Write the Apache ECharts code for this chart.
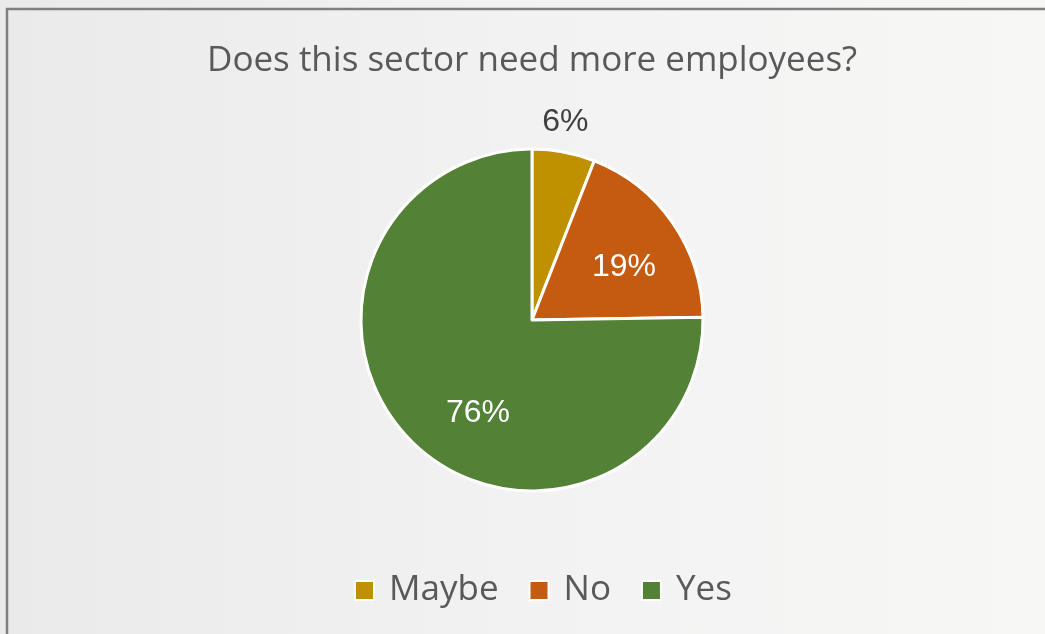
<!DOCTYPE html>
<html>
<head>
<meta charset="utf-8">
<script src="https://cdn.jsdelivr.net/npm/echarts@6/dist/echarts.min.js"></script>
<style>
  html, body { margin: 0; padding: 0; }
  #chart { width: 1045px; height: 634px; }
</style>
</head>
<body>
<div id="chart"></div>
<script>
// Survey answers, in percent
const categories = ['Maybe', 'No', 'Yes'];
const shares = [6, 19, 76];
const sliceColors = ['#BF9000', '#C55A11', '#538135'];
const titleText = 'Does this sector need more employees?';

const chart = echarts.init(document.getElementById('chart'));

const pieData = categories.map((name, i) => ({
  name,
  value: shares[i],
  itemStyle: { color: sliceColors[i] }
}));

const labelFont = {
  fontFamily: '"Liberation Sans", Arial, sans-serif',
  fontSize: 32
};

// Small nudges so the in-slice labels sit where the layout engine of the
// original report put them
const labelNudge = { Maybe: [-4, 0], No: [4, 8], Yes: [21, 17] };

// Transparent copies of the slices that carry the percentage labels
function labelLayer(radius, showFor, color) {
  return {
    type: 'pie',
    silent: true,
    center: [532, 320],
    radius,
    startAngle: 90,
    clockwise: true,
    legendHoverLink: false,
    itemStyle: { color: 'transparent', borderWidth: 0 },
    emphasis: { disabled: true },
    labelLine: { show: false },
    data: categories.map((name, i) => ({
      name,
      value: shares[i],
      label: {
        show: showFor.includes(name),
        position: 'inside',
        formatter: '{c}%',
        color,
        offset: labelNudge[name],
        ...labelFont
      }
    }))
  };
}

chart.setOption({
  backgroundColor: {
    type: 'linear', x: 0, y: 0, x2: 1, y2: 0,
    colorStops: [
      { offset: 0, color: '#eaeaea' },
      { offset: 0.5, color: '#f2f2f2' },
      { offset: 1, color: '#f7f7f6' }
    ]
  },
  animation: false,
  title: {
    text: titleText,
    left: 202,
    top: 39,
    textStyle: {
      color: '#595959',
      fontFamily: '"Open Sans", "Noto Sans", sans-serif',
      fontWeight: 'normal',
      fontSize: 35
    }
  },
  legend: {
    top: 568,
    left: 349,
    itemWidth: 19,
    itemHeight: 19,
    itemGap: 30,
    icon: 'rect',
    data: categories.map((name, i) => ({ name, itemStyle: { color: sliceColors[i] } })),
    textStyle: {
      color: '#595959',
      fontFamily: '"Open Sans", "Noto Sans", sans-serif',
      fontSize: 35,
      padding: [0, 0, 0, 10]
    }
  },
  graphic: [{
    type: 'rect',
    shape: { x: 7, y: 9, width: 1100, height: 700 },
    style: { fill: 'none', stroke: '#7f7f7f', lineWidth: 2.5 },
    silent: true
  }],
  series: [
    {
      type: 'pie',
      center: [532, 320],
      radius: 171,
      startAngle: 90,
      clockwise: true,
      itemStyle: { borderColor: '#ffffff', borderWidth: 3 },
      label: { show: false },
      labelLine: { show: false },
      data: pieData
    },
    labelLayer(208, ['No', 'Yes'], '#ffffff'),
    labelLayer(396, ['Maybe'], '#404040')
  ]
});
</script>
</body>
</html>
